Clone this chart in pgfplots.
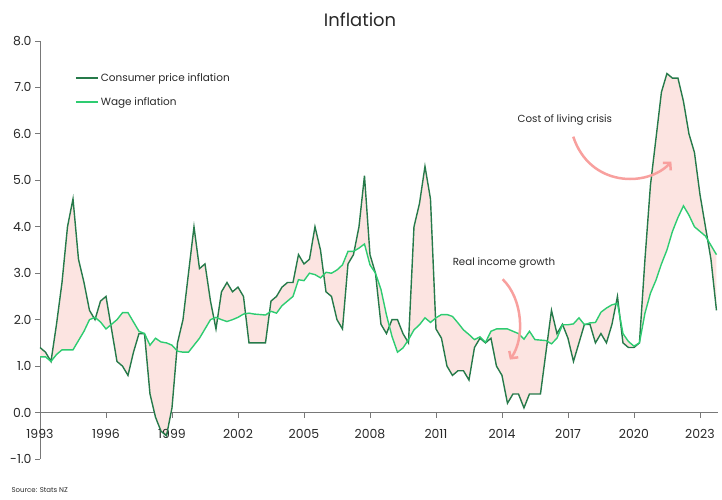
\documentclass[border=0pt]{standalone}
\usepackage{fontspec}
\setmainfont{Poppins}
\usepackage{pgfplots}
\pgfplotsset{compat=1.18}
\usepackage{pgfplotstable}
\usepgfplotslibrary{fillbetween}
\usetikzlibrary{arrows.meta}

\definecolor{cpic}{RGB}{38,122,74}
\definecolor{wagec}{RGB}{46,204,113}
\definecolor{fillc}{RGB}{252,228,225}
\definecolor{arrc}{RGB}{248,160,158}
\definecolor{axc}{RGB}{120,120,120}
\definecolor{txt}{RGB}{40,40,40}

\pgfplotstableread{
i cpi wage
0 1.4 1.2
1 1.3 1.2
2 1.1 1.1
3 1.9 1.25
4 2.8 1.35
5 4.0 1.35
6 4.6 1.35
7 3.3 1.55
8 2.8 1.75
9 2.2 2.0
10 2.0 2.05
11 2.4 1.95
12 2.5 1.8
13 1.8 1.9
14 1.1 2.0
15 1.0 2.15
16 0.8 2.15
17 1.3 1.95
18 1.7 1.75
19 1.7 1.7
20 0.4 1.45
21 -0.1 1.6
22 -0.4 1.52
23 -0.5 1.5
24 0.1 1.45
25 1.5 1.32
26 2.0 1.3
27 3.0 1.3
28 4.0 1.45
29 3.1 1.6
30 3.2 1.8
31 2.4 2.0
32 1.8 2.05
33 2.6 2.0
34 2.8 1.96
35 2.6 2.0
36 2.7 2.05
37 2.5 2.12
38 1.5 2.14
39 1.5 2.12
40 1.5 2.11
41 1.5 2.1
42 2.4 2.18
43 2.5 2.14
44 2.7 2.3
45 2.8 2.4
46 2.8 2.5
47 3.4 2.86
48 3.2 2.84
49 3.3 3.0
50 4.0 2.97
51 3.5 2.9
52 2.6 3.02
53 2.5 3.0
54 2.0 3.07
55 1.8 3.18
56 3.2 3.47
57 3.4 3.47
58 4.0 3.54
59 5.1 3.63
60 3.4 3.18
61 3.0 3.0
62 1.9 2.65
63 1.7 2.1
64 2.0 1.64
65 2.0 1.3
66 1.7 1.39
67 1.5 1.57
68 4.0 1.78
69 4.5 1.89
70 5.3 2.04
71 4.6 1.94
72 1.8 2.04
73 1.6 2.11
74 1.0 2.11
75 0.8 2.07
76 0.9 1.93
77 0.9 1.78
78 0.7 1.68
79 1.4 1.57
80 1.6 1.63
81 1.5 1.51
82 1.6 1.75
83 1.0 1.8
84 0.8 1.8
85 0.2 1.8
86 0.4 1.75
87 0.4 1.7
88 0.1 1.58
89 0.4 1.75
90 0.4 1.57
91 0.4 1.56
92 1.3 1.55
93 2.2 1.48
94 1.7 1.6
95 1.9 1.89
96 1.6 1.89
97 1.1 1.91
98 1.5 2.04
99 1.9 1.89
100 1.9 1.93
101 1.5 1.94
102 1.7 2.16
103 1.5 2.25
104 1.9 2.32
105 2.5 2.35
106 1.5 1.7
107 1.4 1.53
108 1.4 1.43
109 1.5 1.5
110 3.3 2.14
111 4.9 2.57
112 5.9 2.85
113 6.9 3.2
114 7.3 3.5
115 7.2 3.9
116 7.2 4.2
117 6.7 4.45
118 6.0 4.25
119 5.6 4.0
120 4.7 3.9
121 4.0 3.8
122 3.3 3.6
123 2.2 3.4
}\data

\begin{document}
\begin{tikzpicture}
\begin{axis}[
  scale only axis, width=678bp, height=418bp,
  xmin=1993, xmax=2023.82, ymin=-1, ymax=8,
  axis x line=middle, axis y line=left,
  axis line style={axc, line width=0.8bp, -},
  hide obscured x ticks=false, hide obscured y ticks=false,
  xtick={1993,1996,...,2023}, ytick={-1,0,...,8},
  tick align=outside, major tick length=5bp,
  tick style={axc, line width=0.8bp},
  /pgf/number format/assume math mode=true,
  xticklabel style={/pgf/number format/1000 sep={}, font=\fontsize{12.5}{14}\selectfont, text=txt, yshift=-8bp},
  yticklabel style={/pgf/number format/fixed, /pgf/number format/fixed zerofill, /pgf/number format/precision=1, font=\fontsize{12.5}{14}\selectfont, text=txt},
  clip=false,
  legend style={at={(0.047,0.932)}, anchor=north west, draw=none, fill=none, font=\fontsize{10.5}{12}\selectfont, row sep=10bp, text=txt},
  legend cell align=left,
  legend image code/.code={\draw[#1, line width=1.8bp] (0bp,0bp) -- (22bp,0bp);},
]
\addplot[draw=none, name path=A, forget plot] table[x expr=1993+\thisrow{i}/4, y=cpi]{\data};
\addplot[draw=none, name path=B, forget plot] table[x expr=1993+\thisrow{i}/4, y=wage]{\data};
\addplot[fillc, forget plot] fill between[of=A and B];
\addplot[cpic, line width=1.4bp] table[x expr=1993+\thisrow{i}/4, y=cpi]{\data};
\addplot[wagec, line width=1.4bp] table[x expr=1993+\thisrow{i}/4, y=wage]{\data};
\legend{Consumer price inflation, Wage inflation}

\node[font=\fontsize{18}{20}\selectfont, text=txt] at (axis cs:2007.55,8.45) {Inflation};
\node[anchor=west, font=\fontsize{7}{8}\selectfont, text=txt] at (axis cs:1991.55,-1.66) {Source: Stats NZ};

\node[font=\fontsize{10.3}{12}\selectfont, text=txt] at (axis cs:2016.86,6.30) {Cost of living crisis};
\draw[arrc, line width=2.5bp, -{Straight Barb[length=5bp,width=11bp]}] (axis cs:2017.24,5.94) .. controls (axis cs:2018.0,4.85) and (axis cs:2020.6,4.85) .. (axis cs:2021.7,5.4);

\node[font=\fontsize{10.3}{12}\selectfont, text=txt] at (axis cs:2014.09,3.22) {Real income growth};
\draw[arrc, line width=2.5bp, -{Straight Barb[length=5bp,width=11bp]}] (axis cs:2014.03,2.87) .. controls (axis cs:2014.95,2.45) and (axis cs:2015.05,1.6) .. (axis cs:2014.36,1.14);

\coordinate (sw) at (rel axis cs:0,0);
\coordinate (ne) at (rel axis cs:1,1);
\end{axis}
\pgfresetboundingbox
\path[use as bounding box] (sw) ++(-40bp,-41bp) rectangle ([shift={(4bp,41bp)}]ne);
\end{tikzpicture}
\end{document}
